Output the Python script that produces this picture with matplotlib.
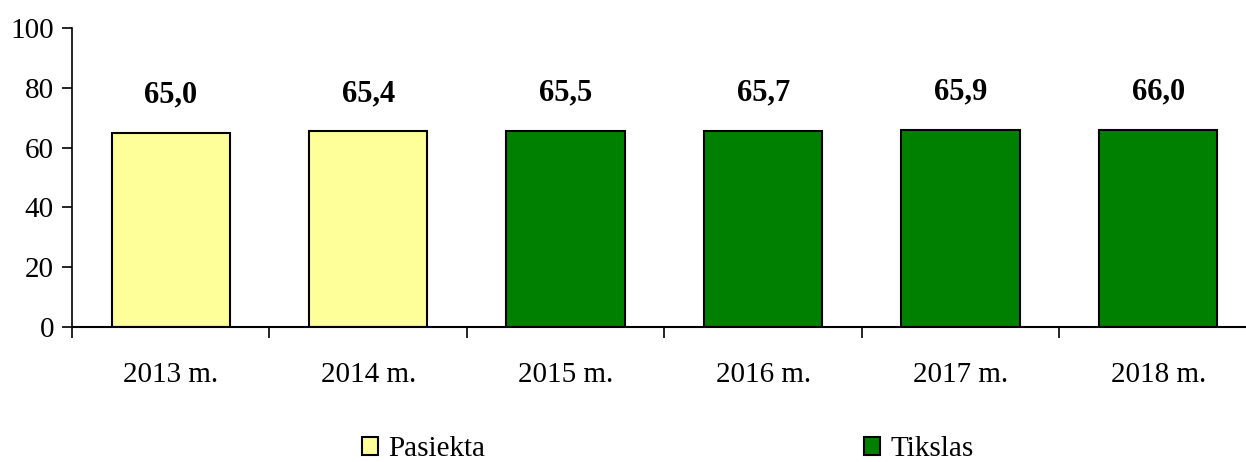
import numpy as np
import matplotlib.pyplot as plt
from matplotlib.ticker import FixedLocator

plt.rcParams['font.family'] = ['Liberation Serif', 'DejaVu Serif']

years = ['2013 m.', '2014 m.', '2015 m.', '2016 m.', '2017 m.', '2018 m.']
pasiekta = [65.0, 65.4, np.nan, np.nan, np.nan, np.nan]
tikslas = [np.nan, np.nan, 65.5, 65.7, 65.9, 66.0]
labels = ['65,0', '65,4', '65,5', '65,7', '65,9', '66,0']

fig = plt.figure(figsize=(12.46, 4.62), dpi=100)
# axis runs a bit past the right edge, like the original
ax = fig.add_axes([72 / 1246, 135 / 462, 1185 / 1246, 299 / 462])

x = np.arange(len(years))
ax.bar(x, pasiekta, width=0.6, color='#FFFF99', edgecolor='black', linewidth=1.5, label='Pasiekta')
ax.bar(x, tikslas, width=0.6, color='#008000', edgecolor='black', linewidth=1.5, label='Tikslas')

vals = np.where(np.isnan(pasiekta), tikslas, pasiekta)
for xi, v, t in zip(x, vals, labels):
    ax.annotate(t, (xi, v), xytext=(0, 38), textcoords='offset pixels',
                ha='center', va='center', fontsize=22, fontweight='bold')

ax.set_xlim(-0.5, len(years) - 0.5)
ax.set_ylim(0, 100)
ax.set_yticks([0, 20, 40, 60, 80, 100])
ax.set_xticks(x)
ax.set_xticklabels(years)
ax.xaxis.set_minor_locator(FixedLocator(np.arange(-0.5, len(years), 1.0)))
ax.tick_params(axis='x', which='major', length=0, labelsize=21, pad=25)
ax.tick_params(axis='x', which='minor', length=8, width=1.2, direction='out')
ax.tick_params(axis='y', length=7, width=1.2, labelsize=21, pad=6)

for s in ['top', 'right']:
    ax.spines[s].set_visible(False)
ax.spines['left'].set_linewidth(1.2)
ax.spines['bottom'].set_linewidth(1.5)

fig.legend(loc='center', bbox_to_anchor=(0.536, 0.028), ncol=2, frameon=False,
           fontsize=21, handlelength=0.55, handleheight=0.55, handletextpad=0.35,
           columnspacing=13.0, borderpad=0)

fig.savefig('out.png', dpi=100)
